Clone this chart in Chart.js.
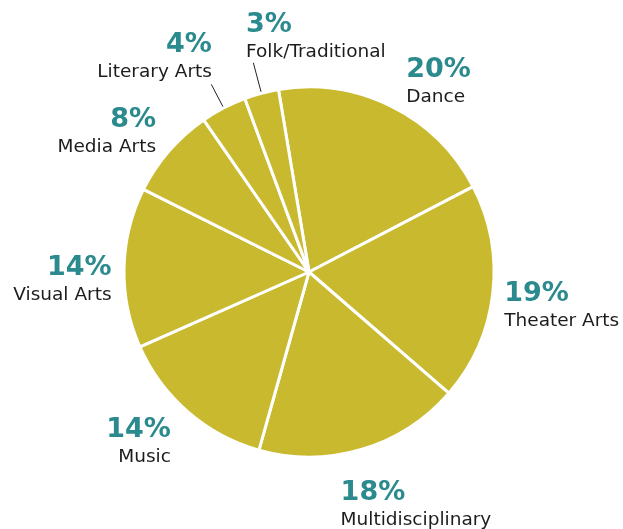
<!DOCTYPE html>
<html>
<head>
<meta charset="utf-8">
<script src="https://cdn.jsdelivr.net/npm/chart.js@4/dist/chart.umd.min.js"></script>
<style>
  html, body { margin: 0; padding: 0; background: #fff; }
  #wrap { width: 623px; height: 529px; }
</style>
</head>
<body>
<div id="wrap"><canvas id="pie" width="623" height="529"></canvas></div>
<script>
var categories = ['Dance', 'Theater Arts', 'Multidisciplinary', 'Music', 'Visual Arts', 'Media Arts', 'Literary Arts', 'Folk/Traditional'];
var shares = [20, 19, 18, 14, 14, 8, 4, 3];
var pctLabels = ['20%', '19%', '18%', '14%', '14%', '8%', '4%', '3%'];

// label block offset from the rim point at each slice's middle angle
var labelPlace = [
  { dx: 14, dy: -28, align: 'left' },
  { dx: 10, dy: 7, align: 'left' },
  { dx: -22, dy: 49, align: 'left' },
  { dx: -16, dy: 24, align: 'right' },
  { dx: -11, dy: 7, align: 'right' },
  { dx: -12, dy: -23, align: 'right' },
  { dx: -11, dy: -55, align: 'right', leader: 25 },
  { dx: -15, dy: -60, align: 'left', leader: 30 }
];

var GOLD = '#c9b92e';
var TEAL = '#2b8a8e';

var sliceLabels = {
  id: 'sliceLabels',
  afterDraw: function(chart) {
    var ctx = chart.ctx;
    var arcs = chart.getDatasetMeta(0).data;
    ctx.save();
    arcs.forEach(function(arc, i) {
      var p = arc.getProps(['x', 'y', 'startAngle', 'endAngle', 'outerRadius'], true);
      var mid = (p.startAngle + p.endAngle) / 2;
      var r = p.outerRadius + 1.5;
      var ex = p.x + Math.cos(mid) * r;
      var ey = p.y + Math.sin(mid) * r;
      var place = labelPlace[i];

      // thin pointer for the narrow slices
      if (place.leader) {
        ctx.strokeStyle = '#222';
        ctx.lineWidth = 1;
        ctx.beginPath();
        ctx.moveTo(ex, ey);
        ctx.lineTo(ex + Math.cos(mid) * place.leader, ey + Math.sin(mid) * place.leader);
        ctx.stroke();
      }

      var lx = ex + place.dx, ly = ey + place.dy;
      ctx.textAlign = place.align;
      ctx.textBaseline = 'alphabetic';
      ctx.fillStyle = TEAL;
      ctx.font = 'bold 27px "DejaVu Sans"';
      ctx.fillText(pctLabels[i], lx, ly);
      ctx.fillStyle = '#1c1c1c';
      ctx.font = '18.5px "DejaVu Sans"';
      ctx.fillText(categories[i], lx, ly + 25);
    });
    ctx.restore();
  }
};

new Chart(document.getElementById('pie'), {
  type: 'pie',
  data: {
    labels: categories,
    datasets: [{
      data: shares,
      backgroundColor: GOLD,
      borderColor: '#ffffff',
      borderWidth: 3
    }]
  },
  options: {
    responsive: false,
    animation: false,
    rotation: -9.5,
    layout: { padding: { left: 122.5, right: 127.5, top: 85.5, bottom: 70.5 } },
    plugins: {
      legend: { display: false },
      tooltip: { enabled: false }
    }
  },
  plugins: [sliceLabels]
});
</script>
</body>
</html>
